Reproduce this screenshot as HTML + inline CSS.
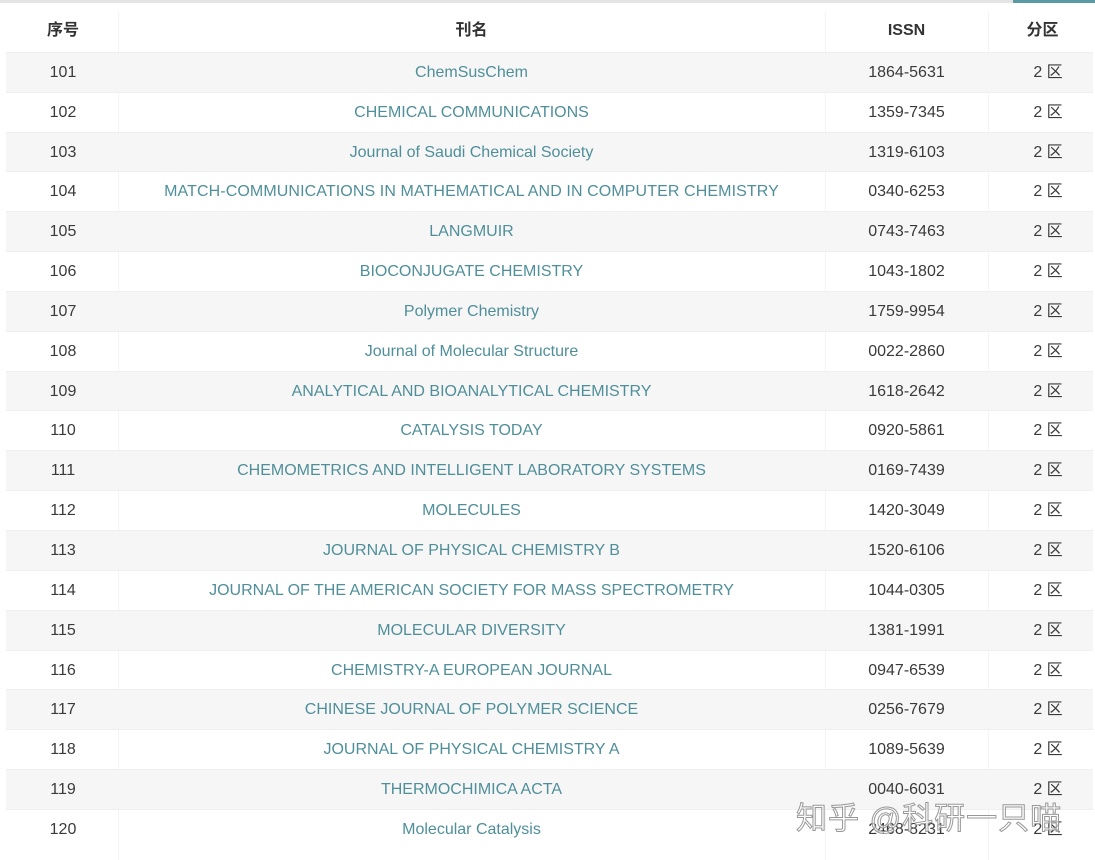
<!DOCTYPE html>
<html><head><meta charset="utf-8"><style>
html,body{margin:0;padding:0;background:#fff;width:1095px;height:860px;overflow:hidden}
body{font-family:"Liberation Sans","Noto Sans CJK SC",sans-serif;font-size:16px;color:#3a3a3a;position:relative}
.top{position:absolute;left:0;top:0;width:1095px;height:3px;background:#e4e4e4}
.top2{position:absolute;left:1013px;top:0;width:82px;height:3px;background:#5a9aa5}
.row{position:absolute;left:6px;width:1087px;height:40px;border-top:1px solid #efefef;box-sizing:border-box}
.row.g{background:#f6f6f6}
.c{position:absolute;top:0;height:100%;line-height:40px;text-align:center;white-space:nowrap}
.c1{left:0;width:114px}
.c2{left:112px;width:707px;color:#4f8f9a}
.c3{left:819px;width:163px}
.c4{left:982px;width:105px;padding-left:15px;box-sizing:border-box}
.h{font-weight:bold;color:#333}
.d{position:absolute;top:12px;bottom:0;width:1px;background:#f4f4f4}
.wm{position:absolute;left:796px;top:793px;font-size:31px;color:rgba(255,255,255,0.6);-webkit-text-stroke:1px #999;letter-spacing:1px}
</style></head><body>
<div class="top"></div><div class="top2"></div>
<div class="row" style="top:11px;border-top:none"><div class="c c1 h">序号</div><div class="c c2 h" style="color:#333">刊名</div><div class="c c3 h">ISSN</div><div class="c c4 h" style="padding-left:4px">分区</div></div>
<div class="d" style="left:118px"></div><div class="d" style="left:825px"></div><div class="d" style="left:988px"></div>
<div class="row g" style="top:52px"><div class="c c1">101</div><div class="c c2">ChemSusChem</div><div class="c c3">1864-5631</div><div class="c c4">2 区</div></div>
<div class="row" style="top:92px"><div class="c c1">102</div><div class="c c2">CHEMICAL COMMUNICATIONS</div><div class="c c3">1359-7345</div><div class="c c4">2 区</div></div>
<div class="row g" style="top:132px"><div class="c c1">103</div><div class="c c2">Journal of Saudi Chemical Society</div><div class="c c3">1319-6103</div><div class="c c4">2 区</div></div>
<div class="row" style="top:171px"><div class="c c1">104</div><div class="c c2" style="letter-spacing:0.1px">MATCH-COMMUNICATIONS IN MATHEMATICAL AND IN COMPUTER CHEMISTRY</div><div class="c c3">0340-6253</div><div class="c c4">2 区</div></div>
<div class="row g" style="top:211px"><div class="c c1">105</div><div class="c c2">LANGMUIR</div><div class="c c3">0743-7463</div><div class="c c4">2 区</div></div>
<div class="row" style="top:251px"><div class="c c1">106</div><div class="c c2">BIOCONJUGATE CHEMISTRY</div><div class="c c3">1043-1802</div><div class="c c4">2 区</div></div>
<div class="row g" style="top:291px"><div class="c c1">107</div><div class="c c2">Polymer Chemistry</div><div class="c c3">1759-9954</div><div class="c c4">2 区</div></div>
<div class="row" style="top:331px"><div class="c c1">108</div><div class="c c2">Journal of Molecular Structure</div><div class="c c3">0022-2860</div><div class="c c4">2 区</div></div>
<div class="row g" style="top:371px"><div class="c c1">109</div><div class="c c2">ANALYTICAL AND BIOANALYTICAL CHEMISTRY</div><div class="c c3">1618-2642</div><div class="c c4">2 区</div></div>
<div class="row" style="top:410px"><div class="c c1">110</div><div class="c c2">CATALYSIS TODAY</div><div class="c c3">0920-5861</div><div class="c c4">2 区</div></div>
<div class="row g" style="top:450px"><div class="c c1">111</div><div class="c c2">CHEMOMETRICS AND INTELLIGENT LABORATORY SYSTEMS</div><div class="c c3">0169-7439</div><div class="c c4">2 区</div></div>
<div class="row" style="top:490px"><div class="c c1">112</div><div class="c c2">MOLECULES</div><div class="c c3">1420-3049</div><div class="c c4">2 区</div></div>
<div class="row g" style="top:530px"><div class="c c1">113</div><div class="c c2">JOURNAL OF PHYSICAL CHEMISTRY B</div><div class="c c3">1520-6106</div><div class="c c4">2 区</div></div>
<div class="row" style="top:570px"><div class="c c1">114</div><div class="c c2">JOURNAL OF THE AMERICAN SOCIETY FOR MASS SPECTROMETRY</div><div class="c c3">1044-0305</div><div class="c c4">2 区</div></div>
<div class="row g" style="top:610px"><div class="c c1">115</div><div class="c c2">MOLECULAR DIVERSITY</div><div class="c c3">1381-1991</div><div class="c c4">2 区</div></div>
<div class="row" style="top:650px"><div class="c c1">116</div><div class="c c2">CHEMISTRY-A EUROPEAN JOURNAL</div><div class="c c3">0947-6539</div><div class="c c4">2 区</div></div>
<div class="row g" style="top:689px"><div class="c c1">117</div><div class="c c2">CHINESE JOURNAL OF POLYMER SCIENCE</div><div class="c c3">0256-7679</div><div class="c c4">2 区</div></div>
<div class="row" style="top:729px"><div class="c c1">118</div><div class="c c2">JOURNAL OF PHYSICAL CHEMISTRY A</div><div class="c c3">1089-5639</div><div class="c c4">2 区</div></div>
<div class="row g" style="top:769px"><div class="c c1">119</div><div class="c c2">THERMOCHIMICA ACTA</div><div class="c c3">0040-6031</div><div class="c c4">2 区</div></div>
<div class="row" style="top:809px"><div class="c c1">120</div><div class="c c2">Molecular Catalysis</div><div class="c c3">2468-8231</div><div class="c c4">2 区</div></div>
<div class="wm">知乎 @科研一只喵</div>
</body></html>
